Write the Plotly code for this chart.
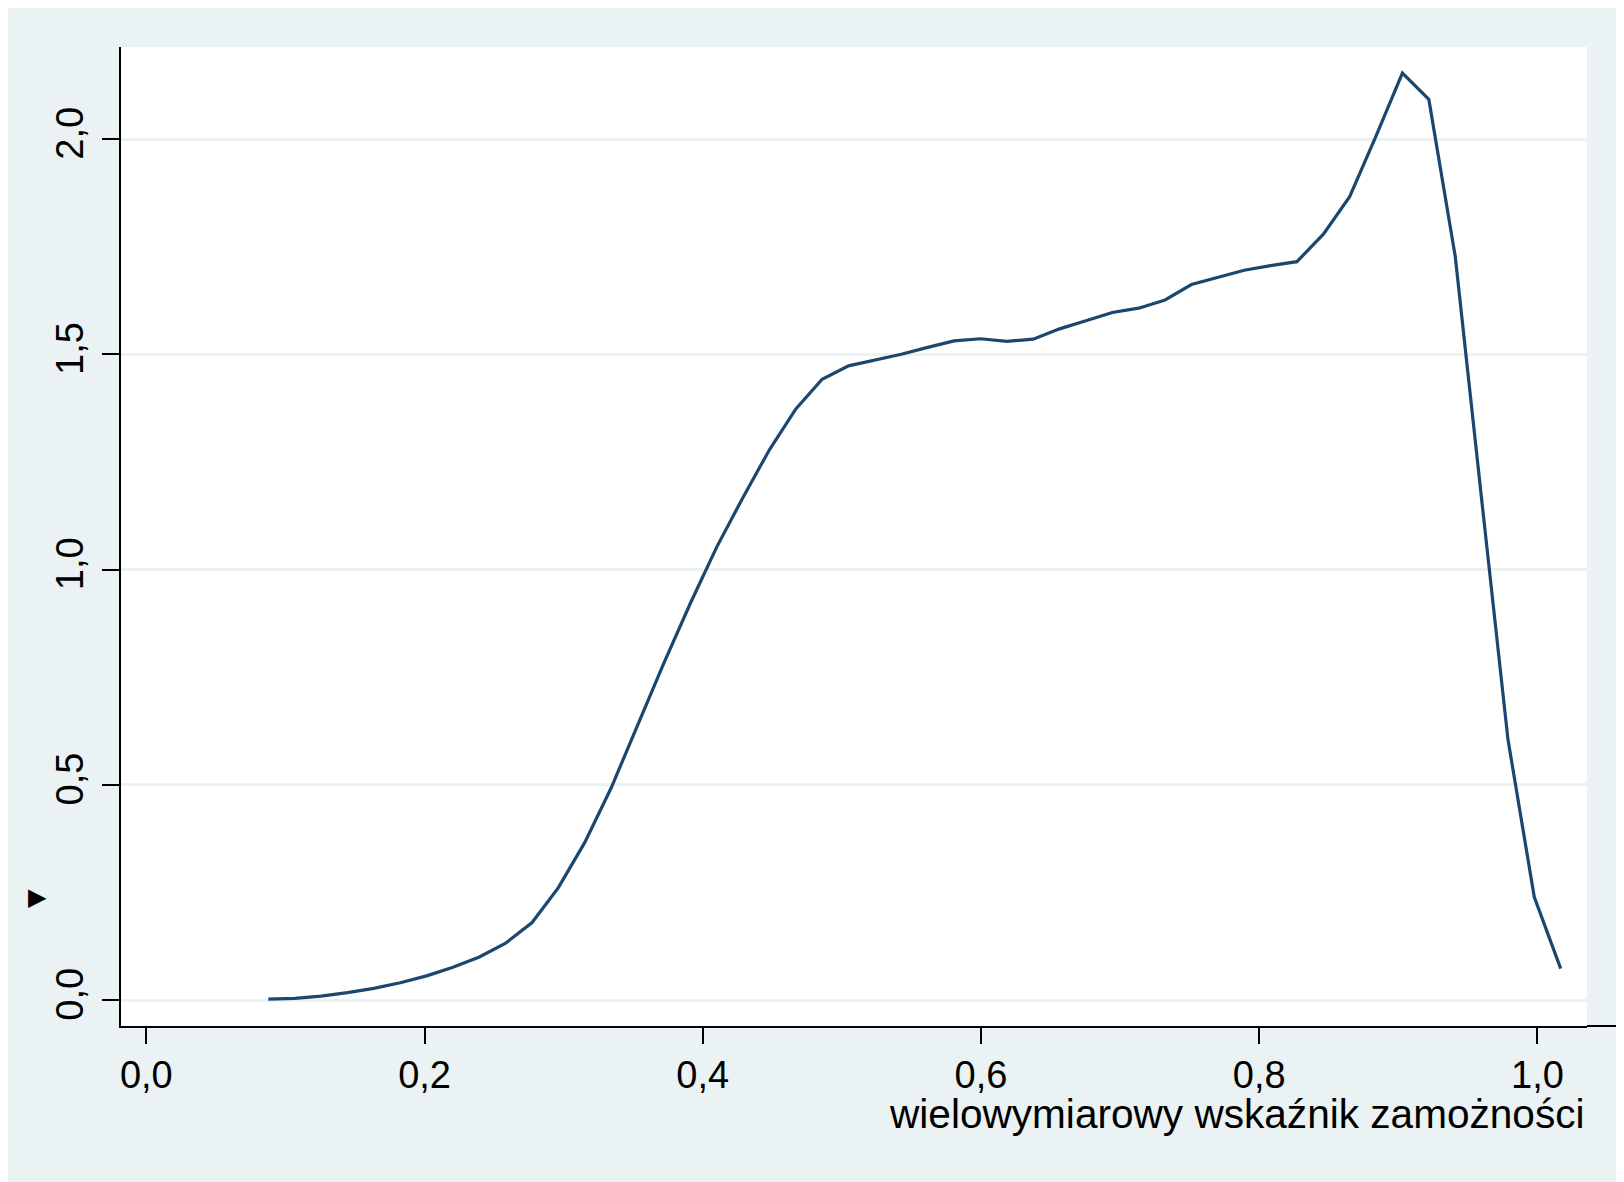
import plotly.graph_objects as go

# Data (kernel-density-like curve, 50 points)
x_vals = [0.0877, 0.1067, 0.1256, 0.1446, 0.1635, 0.1825, 0.2015, 0.2204, 0.2394, 0.2583,
          0.2773, 0.2962, 0.3152, 0.3342, 0.3531, 0.3721, 0.3910, 0.4100, 0.4290, 0.4479,
          0.4669, 0.4858, 0.5048, 0.5238, 0.5427, 0.5617, 0.5806, 0.5996, 0.6186, 0.6375,
          0.6565, 0.6754, 0.6944, 0.7133, 0.7323, 0.7513, 0.7702, 0.7892, 0.8081, 0.8271,
          0.8461, 0.8650, 0.8840, 0.9029, 0.9219, 0.9409, 0.9598, 0.9788, 0.9977, 1.0167]
y_vals = [0.002, 0.004, 0.009, 0.017, 0.027, 0.040, 0.056, 0.076, 0.100, 0.132,
          0.180, 0.261, 0.366, 0.493, 0.638, 0.783, 0.921, 1.052, 1.168, 1.278,
          1.373, 1.442, 1.473, 1.486, 1.500, 1.516, 1.531, 1.536, 1.530, 1.535,
          1.559, 1.578, 1.597, 1.607, 1.626, 1.662, 1.678, 1.695, 1.706, 1.715,
          1.779, 1.866, 2.007, 2.153, 2.092, 1.727, 1.165, 0.605, 0.239, 0.073]

x_ticks = [0.0, 0.2, 0.4, 0.6, 0.8, 1.0]
y_ticks = [0.0, 0.5, 1.0, 1.5, 2.0]
x_title = "wielowymiarowy wskaźnik zamożności"
y_title = "▶"

# the page body adds an 8px margin; size the figure to fill the rest of the window
OFF = 8
W, H = 1624 - OFF, 1182 - OFF
L, T = 121 - OFF, 47 - OFF
R = W - (1586.7 - OFF)
B = H - (1026 - OFF)
pw, ph = W - L - R, H - T - B

BG = "#EAF2F3"
LINE = "#1A476F"
FONT = "Liberation Sans, Arial, Helvetica, sans-serif"

fig = go.Figure()
fig.add_trace(go.Scatter(x=x_vals, y=y_vals, mode="lines",
                         line=dict(color=LINE, width=3.2), hoverinfo="skip",
                         showlegend=False))

# helpers converting screenshot pixel positions to paper coordinates
def px2paper_x(px):
    return (px - OFF - L) / pw

def py2paper_y(py):
    return (H - B - (py - OFF)) / ph

shapes = [
    # x-axis line continues to the right edge
    dict(type="line", xref="paper", yref="paper", x0=1, x1=px2paper_x(1626),
         y0=0, y1=0, line=dict(color="black", width=2)),
]

fig.update_layout(
    width=W, height=H,
    margin=dict(l=L, r=R, t=T, b=B, pad=0),
    paper_bgcolor=BG, plot_bgcolor="white",
    separators=", ",
    font=dict(family=FONT, color="black", size=38),
    shapes=shapes,
    showlegend=False,
)

fig.update_xaxes(
    range=[-0.0182, 1.0356], tickvals=x_ticks, tickformat=".1f",
    showgrid=False, zeroline=False,
    showline=True, linecolor="black", linewidth=2,
    ticks="outside", ticklen=16, tickwidth=2, tickcolor="black",
    tickfont=dict(family=FONT, size=38, color="black"),
    ticklabelstandoff=-2,
)
fig.update_yaxes(
    range=[-0.0604, 2.2137], tickvals=y_ticks, tickformat=".1f",
    showgrid=True, gridcolor=BG, gridwidth=2.6, zeroline=False,
    showline=True, linecolor="black", linewidth=2,
    ticks="outside", ticklen=17, tickwidth=2, tickcolor="black",
    tickangle=-90,
    tickfont=dict(family=FONT, size=38, color="black"),
    ticklabelstandoff=4,
)

fig.add_annotation(text=x_title, xref="paper", yref="paper",
                   x=px2paper_x(1587), y=py2paper_y(1114), xanchor="right", yanchor="middle",
                   showarrow=False, font=dict(family=FONT, size=40.6, color="black"))
fig.add_annotation(text=y_title, xref="paper", yref="paper",
                   x=px2paper_x(38), y=py2paper_y(897), xanchor="center", yanchor="middle",
                   showarrow=False, font=dict(family="DejaVu Sans", size=24, color="black"))

fig.write_html("out.html")
